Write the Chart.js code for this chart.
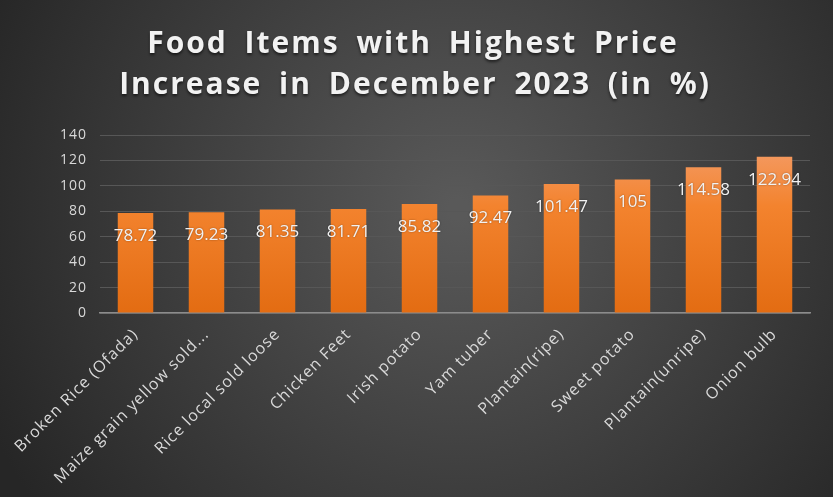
<!DOCTYPE html>
<html>
<head>
<meta charset="utf-8">
<script src="https://cdn.jsdelivr.net/npm/chart.js@4"></script>
<style>
  html, body { margin: 0; padding: 0; background: #262626; }
  #wrap { width: 833px; height: 497px; }
</style>
</head>
<body>
<div id="wrap"><canvas id="food_chart" width="833" height="497"></canvas></div>
<script>
var categories = ["Broken Rice (Ofada)", "Maize grain yellow sold...", "Rice local sold loose", "Chicken Feet", "Irish potato", "Yam tuber", "Plantain(ripe)", "Sweet potato", "Plantain(unripe)", "Onion bulb"];
var increases = [78.72, 79.23, 81.35, 81.71, 85.82, 92.47, 101.47, 105, 114.58, 122.94];
var yTicks = [0, 20, 40, 60, 80, 100, 120, 140];
var titleLines = ["Food Items with Highest Price", "Increase in December 2023 (in %)"];

// dark radial backdrop + title
var backdrop = {
  id: 'backdrop',
  beforeDraw: function(chart){
    var ctx = chart.ctx, w = chart.width, h = chart.height;
    var g = ctx.createRadialGradient(w * 0.55, h * 0.42, 10, w * 0.55, h * 0.42, w * 0.62);
    g.addColorStop(0, '#595959');
    g.addColorStop(1, '#262626');
    ctx.save();
    ctx.fillStyle = g;
    ctx.fillRect(0, 0, w, h);
    ctx.fillStyle = '#f2f2f2';
    ctx.font = 'bold 30px "Open Sans"';
    ctx.textAlign = 'center';
    ctx.textBaseline = 'middle';
    ctx.letterSpacing = '2px';
    ctx.wordSpacing = '7px';
    ctx.shadowColor = 'rgba(0,0,0,0.6)';
    ctx.shadowBlur = 3;
    ctx.shadowOffsetY = 2;
    ctx.fillText(titleLines[0], 413, 44);
    ctx.fillText(titleLines[1], 415, 85);
    ctx.restore();
    // slightly spread tick text, like the original
    ctx.letterSpacing = '1px';
  },
  afterDraw: function(chart){
    chart.ctx.letterSpacing = '0px';
  }
};

// value labels inside bar tops
var valueLabels = {
  id: 'valueLabels',
  afterDatasetsDraw: function(chart){
    var ctx = chart.ctx;
    var meta = chart.getDatasetMeta(0);
    ctx.save();
    ctx.letterSpacing = '0px';
    ctx.fillStyle = '#f2f2f2';
    ctx.font = '17px "Open Sans"';
    ctx.textAlign = 'center';
    ctx.textBaseline = 'middle';
    ctx.shadowColor = 'rgba(0,0,0,0.4)';
    ctx.shadowBlur = 2;
    meta.data.forEach(function(bar, i){
      ctx.fillText(String(increases[i]), bar.x, bar.y + 23);
    });
    ctx.restore();
  }
};

var chart = new Chart(document.getElementById('food_chart').getContext('2d'), {
  type: 'bar',
  data: {
    labels: categories,
    datasets: [{
      label: 'Increase (%)',
      data: increases,
      backgroundColor: function(c){
        var area = c.chart.chartArea;
        if (!area) return '#ed7d31';
        var g = c.chart.ctx.createLinearGradient(0, area.top, 0, area.bottom);
        g.addColorStop(0, '#f4a070');
        g.addColorStop(0.4, '#f3832e');
        g.addColorStop(1, '#e36c12');
        return g;
      },
      borderWidth: 0,
      categoryPercentage: 1,
      barPercentage: 0.5
    }]
  },
  options: {
    responsive: false,
    animation: false,
    layout: { padding: { top: 135, right: 23, left: 0, bottom: 0 } },
    plugins: {
      legend: { display: false },
      title: { display: false },
      tooltip: { enabled: false }
    },
    scales: {
      x: {
        grid: { display: false },
        border: { color: '#8c8c8c', width: 1.5 },
        ticks: {
          color: '#d9d9d9',
          font: { family: 'Open Sans', size: 16 },
          maxRotation: 45,
          minRotation: 45,
          autoSkip: false,
          padding: 4
        },
        afterFit: function(s){ s.height = 184; }
      },
      y: {
        min: 0,
        max: 140,
        afterBuildTicks: function(s){ s.ticks = yTicks.map(function(v){ return { value: v }; }); },
        grid: { color: '#575757', lineWidth: 1, drawTicks: false },
        border: { display: false },
        ticks: {
          color: '#d9d9d9',
          font: { family: 'Open Sans', size: 14 },
          padding: 13
        },
        afterFit: function(s){ s.width = 100; }
      }
    }
  },
  plugins: [backdrop, valueLabels]
});
</script>
</body>
</html>
